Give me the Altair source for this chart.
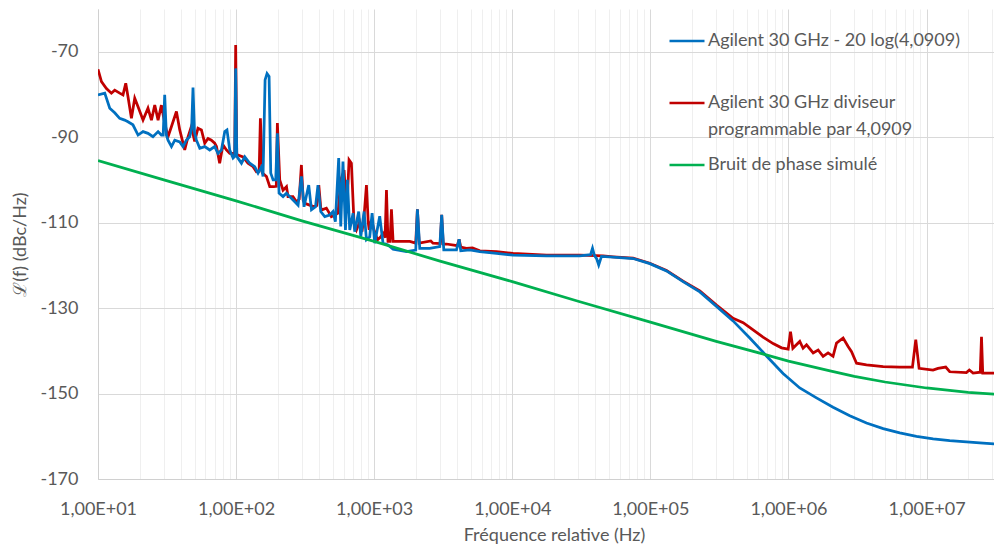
import json
import altair as alt
import pandas as pd

# ---- data (frequency given as log10(Hz)) ----
blue_exp = [
    1.000, 1.049, 1.085, 1.121, 1.157, 1.193, 1.217, 1.253, 1.290, 1.326,
    1.362, 1.398, 1.435, 1.459, 1.472, 1.483, 1.495, 1.507, 1.532, 1.556,
    1.592, 1.616, 1.640, 1.664, 1.678, 1.688, 1.699, 1.713, 1.737, 1.773,
    1.809, 1.845, 1.869, 1.894, 1.918, 1.934, 1.954, 1.978, 1.990, 1.997,
    2.005, 2.014, 2.039, 2.063, 2.099, 2.135, 2.159, 2.184, 2.195, 2.210,
    2.224, 2.239, 2.251, 2.268, 2.287, 2.299, 2.311, 2.340, 2.365, 2.388,
    2.425, 2.449, 2.473, 2.492, 2.526, 2.546, 2.575, 2.593, 2.613, 2.642,
    2.678, 2.702, 2.719, 2.743, 2.758, 2.774, 2.792, 2.806, 2.823, 2.847,
    2.859, 2.888, 2.903, 2.927, 2.944, 2.968, 2.985, 3.004, 3.040, 3.064,
    3.100, 3.137, 3.234, 3.301, 3.313, 3.330, 3.402, 3.475, 3.489, 3.504,
    3.596, 3.615, 3.627, 3.692, 3.765, 3.886, 4.006, 4.248, 4.489, 4.567,
    4.581, 4.594, 4.612, 4.626, 4.646, 4.730, 4.875, 4.996, 5.117, 5.237,
    5.358, 5.479, 5.599, 5.720, 5.841, 5.961, 6.082, 6.203, 6.323, 6.444,
    6.565, 6.686, 6.806, 6.927, 7.048, 7.168, 7.289, 7.410, 7.531,
]
blue_db = [
    -80.1, -79.7, -83.2, -84.3, -85.6, -86.0, -86.4, -87.1, -89.5, -88.7,
    -89.1, -89.9, -88.7, -89.5, -89.5, -80.1, -89.5, -90.7, -92.2, -90.7,
    -91.1, -92.2, -90.7, -89.9, -88.0, -78.4, -89.0, -90.7, -92.6, -92.2,
    -93.0, -92.2, -93.8, -93.0, -88.7, -88.3, -93.0, -94.9, -94.5, -73.9,
    -94.5, -94.9, -96.1, -94.6, -96.1, -96.9, -98.4, -96.9, -99.2, -76.6,
    -75.1, -75.8, -98.4, -100.0, -100.0, -89.1, -103.1, -103.9, -103.1, -103.9,
    -105.1, -105.9, -99.2, -106.3, -101.2, -107.0, -106.3, -101.2, -107.4, -108.6,
    -108.2, -107.4, -109.8, -94.9, -110.9, -95.7, -111.7, -100.0, -111.7, -107.8,
    -112.1, -107.4, -113.3, -107.4, -114.0, -113.3, -107.8, -114.8, -108.5, -114.8,
    -115.2, -116.2, -116.8, -116.4, -106.9, -116.0, -116.0, -115.6, -108.2, -116.4,
    -116.4, -113.9, -116.6, -116.4, -116.8, -117.2, -117.6, -117.8, -117.8, -117.5,
    -116.0, -117.6, -118.5, -119.9, -117.9, -118.1, -118.4, -119.6, -121.3, -123.8,
    -126.2, -129.6, -133.0, -137.0, -141.2, -145.3, -148.7, -151.0, -153.2, -155.2,
    -156.9, -158.2, -159.2, -160.0, -160.6, -161.0, -161.3, -161.6, -161.9,
]

red_exp = [
    1.000, 1.025, 1.061, 1.097, 1.121, 1.157, 1.181, 1.201, 1.217, 1.242,
    1.266, 1.290, 1.326, 1.362, 1.387, 1.411, 1.435, 1.459, 1.483, 1.507,
    1.532, 1.568, 1.592, 1.628, 1.652, 1.676, 1.700, 1.724, 1.749, 1.773,
    1.797, 1.821, 1.845, 1.858, 1.881, 1.905, 1.930, 1.954, 1.978, 1.990,
    1.997, 2.005, 2.014, 2.050, 2.086, 2.123, 2.147, 2.167, 2.176, 2.191,
    2.220, 2.244, 2.273, 2.291, 2.299, 2.316, 2.340, 2.365, 2.376, 2.412,
    2.437, 2.457, 2.473, 2.486, 2.497, 2.533, 2.564, 2.584, 2.599, 2.613,
    2.622, 2.654, 2.690, 2.714, 2.738, 2.758, 2.782, 2.801, 2.818, 2.835,
    2.854, 2.872, 2.895, 2.912, 2.928, 2.944, 2.957, 2.964, 2.980, 2.999,
    3.024, 3.048, 3.064, 3.079, 3.089, 3.100, 3.115, 3.125, 3.137, 3.185,
    3.258, 3.301, 3.313, 3.326, 3.410, 3.426, 3.478, 3.489, 3.500, 3.523,
    3.602, 3.615, 3.627, 3.668, 3.712, 3.765, 3.886, 4.006, 4.248, 4.489,
    4.658, 4.730, 4.875, 4.996, 5.117, 5.237, 5.358, 5.479, 5.599, 5.672,
    5.744, 5.816, 5.889, 5.950, 5.998, 6.015, 6.032, 6.082, 6.106, 6.131,
    6.179, 6.215, 6.251, 6.287, 6.323, 6.348, 6.396, 6.432, 6.457, 6.493,
    6.565, 6.686, 6.806, 6.898, 6.922, 6.946, 7.047, 7.083, 7.139, 7.168,
    7.289, 7.310, 7.337, 7.389, 7.398, 7.407, 7.482, 7.508, 7.518, 7.530,
]
red_db = [
    -74.1, -77.0, -78.6, -79.7, -79.0, -79.7, -80.1, -77.4, -80.5, -85.6,
    -80.9, -82.9, -86.0, -83.2, -86.0, -82.5, -86.0, -82.5, -86.7, -89.9,
    -87.5, -84.0, -88.3, -93.0, -89.9, -87.5, -91.0, -87.9, -88.3, -91.4,
    -90.3, -90.7, -91.4, -92.2, -96.1, -91.8, -93.0, -93.8, -93.8, -94.0,
    -68.4, -94.0, -94.2, -94.6, -96.1, -96.9, -98.1, -98.0, -85.6, -98.4,
    -99.2, -101.6, -101.6, -101.5, -86.7, -100.0, -102.4, -101.6, -103.9, -103.9,
    -105.1, -104.5, -96.5, -104.8, -105.5, -105.9, -106.3, -106.0, -101.2, -106.5,
    -107.0, -106.6, -108.6, -108.2, -107.8, -100.0, -97.7, -107.8, -95.3, -96.1,
    -110.1, -111.7, -109.8, -112.1, -108.0, -101.2, -110.0, -111.7, -109.4, -111.7,
    -114.0, -113.3, -112.5, -113.5, -102.4, -114.4, -114.4, -106.9, -114.4, -114.4,
    -114.4, -114.8, -106.9, -114.8, -114.3, -114.8, -114.9, -108.2, -115.0, -115.0,
    -115.4, -113.9, -115.7, -116.0, -115.9, -116.6, -116.8, -117.2, -117.6, -117.6,
    -117.8, -118.0, -118.3, -119.5, -121.2, -123.7, -126.0, -129.3, -132.4, -133.4,
    -135.1, -136.8, -138.3, -139.3, -139.6, -135.5, -139.4, -137.8, -139.4, -138.6,
    -140.5, -139.8, -141.3, -140.5, -141.3, -138.2, -137.0, -139.0, -140.2, -142.9,
    -143.3, -143.7, -143.8, -143.8, -137.4, -144.1, -144.5, -144.1, -143.8, -144.9,
    -145.1, -144.5, -145.2, -145.0, -136.7, -145.2, -145.2, -145.3, -133.9, -145.6,
]

green_exp = [1.0, 1.477, 2.0, 2.477, 3.0, 3.477, 4.0, 4.477, 5.0, 5.477,
             5.845, 6.0, 6.301, 6.477, 6.699, 7.0, 7.301, 7.544]
green_db = [-95.5, -100.0, -104.9, -109.6, -114.4, -119.0, -123.8, -128.4, -133.3, -137.8,
            -141.0, -142.4, -144.7, -146.0, -147.3, -148.7, -149.7, -150.3]

series_keys = ["blue", "red", "green"]
series_colors = ["#0070C0", "#C00000", "#00B050"]
legend_labels = {
    "blue": ["Agilent 30 GHz - 20 log(4,0909)", ""],
    "red": ["Agilent 30 GHz diviseur", "programmable par 4,0909"],
    "green": "Bruit de phase simulé",
}
y_ticks = [-170, -150, -130, -110, -90, -70]
x_title = "Fréquence relative (Hz)"
y_title = "ℒ(f) (dBc/Hz)"

assert len(blue_exp) == len(blue_db)
assert len(red_exp) == len(red_db)
assert len(green_exp) == len(green_db)

frames = []
for key, ex, db in [("blue", blue_exp, blue_db), ("red", red_exp, red_db), ("green", green_exp, green_db)]:
    frames.append(pd.DataFrame({"f": [10 ** e for e in ex], "db": db, "s": key}))
df = pd.concat(frames, ignore_index=True)

x_max = 3.08e7
x_ticks = []
for d in range(1, 8):
    for k in range(1, 10):
        v = k * 10 ** d
        if v <= x_max:
            x_ticks.append(v)

is_major = "abs(log(datum.value)/LN10 - round(log(datum.value)/LN10)) < 0.01"
x_label_expr = (f"{is_major} ? '1,00E+' + (round(log(datum.value)/LN10) < 10 ? '0' : '') "
                "+ round(log(datum.value)/LN10) : ''")

label_expr = (f"datum.value == 'blue' ? {json.dumps(legend_labels['blue'], ensure_ascii=False)} : "
              f"datum.value == 'red' ? {json.dumps(legend_labels['red'], ensure_ascii=False)} : "
              f"{json.dumps(legend_labels['green'], ensure_ascii=False)}")

FONT = "Lato"
GREY = "#595959"

x_enc = alt.X(
    "f:Q",
    scale=alt.Scale(type="log", domain=[10, x_max], nice=False),
    axis=alt.Axis(
        values=x_ticks, labelExpr=x_label_expr, title=x_title, ticks=False,
        grid=True,
        gridColor={"condition": {"test": is_major, "value": "#d9d9d9"}, "value": "#efefef"},
        domainColor="#d0d0d0", labelFontSize=18, labelFont=FONT, labelColor=GREY,
        labelPadding=21, labelFlush=False, labelOverlap=False,
        titleFont=FONT, titleFontSize=18, titleFontWeight="normal", titleColor=GREY,
        titleX=456, titleY=61, titleBaseline="alphabetic", titleAlign="center",
    ),
)
y_enc = alt.Y(
    "db:Q",
    scale=alt.Scale(domain=[-170, -60], nice=False, zero=False),
    axis=alt.Axis(
        values=y_ticks, labelExpr="'' + datum.value", title=y_title, ticks=False,
        grid=True, gridColor="#d9d9d9",
        domainColor="#d0d0d0", labelFontSize=18, labelFont=FONT, labelColor=GREY,
        labelPadding=20,
        titleFont=FONT, titleFontSize=18, titleFontWeight="normal", titleColor=GREY,
        titleX=-78, titleY=235, titleAngle=270, titleAlign="center", titleBaseline="middle",
    ),
)
color_enc = alt.Color(
    "s:N",
    scale=alt.Scale(domain=series_keys, range=series_colors),
    legend=alt.Legend(
        title=None, orient="none", legendX=570, legendY=13, padding=0,
        symbolType="stroke", symbolSize=1225, symbolStrokeWidth=2.5,
        labelExpr=label_expr, labelFont=FONT, labelFontSize=18, labelColor=GREY,
        labelOffset=2, labelLimit=500, rowPadding=7,
    ),
)

def layer(key):
    return (
        alt.Chart(df)
        .transform_filter(alt.datum.s == key)
        .mark_line(strokeWidth=2.75, clip=True)
        .encode(x=x_enc, y=y_enc, color=color_enc)
    )

chart = (
    alt.layer(layer("red"), layer("blue"), layer("green"))
    .properties(
        width=896, height=470,
        autosize=alt.AutoSizeParams(type="none"),
        padding={"left": 90, "top": 1, "right": 0, "bottom": 65},
    )
    .configure(
        view=alt.ViewConfig(stroke=None),
        style={"guide-label": {"lineHeight": 27}},
    )
)

chart.save("out.html", embed_options={"renderer": "svg", "actions": False})
